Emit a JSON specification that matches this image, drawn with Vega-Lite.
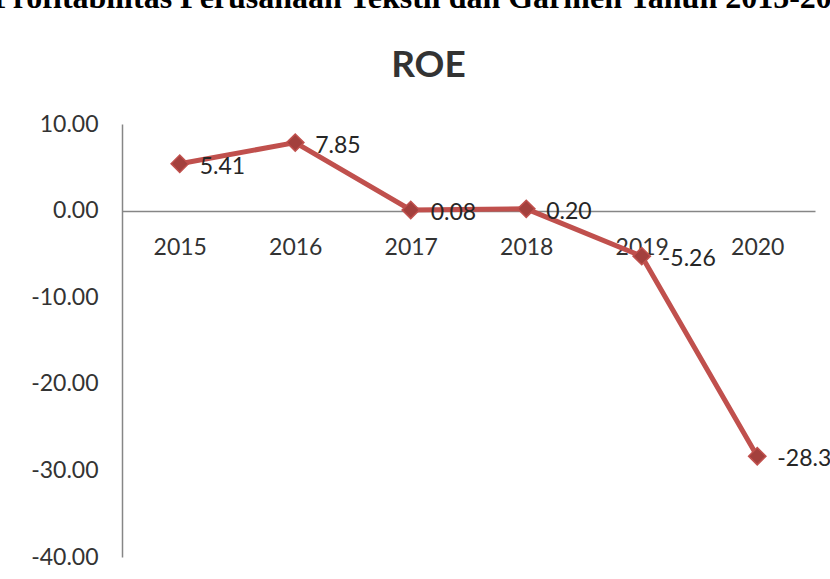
{
  "$schema": "https://vega.github.io/schema/vega-lite/v6.json",
  "autosize": {"type": "none"},
  "width": 693,
  "height": 433,
  "padding": {"left": 122, "top": 124, "right": 15, "bottom": 22},
  "background": "white",
  "title": {
    "text": "Profitabilitas Perusahaan Tekstil dan Garmen Tahun 2015-2020",
    "subtitle": "ROE",
    "anchor": "middle",
    "frame": "group",
    "dx": -40,
    "offset": 28,
    "baseline": "top",
    "font": "Liberation Serif",
    "fontSize": 32,
    "fontWeight": "bold",
    "color": "#000000",
    "subtitleFont": "Lato",
    "subtitleFontSize": 37,
    "subtitleFontWeight": "bold",
    "subtitleColor": "#333333",
    "subtitlePadding": 33
  },
  "data": {
    "values": [
      {"year": "2015", "roe": 5.41},
      {"year": "2016", "roe": 7.85},
      {"year": "2017", "roe": 0.08},
      {"year": "2018", "roe": 0.20},
      {"year": "2019", "roe": -5.26},
      {"year": "2020", "roe": -28.36}
    ]
  },
  "config": {
    "view": {"stroke": null},
    "font": "Lato",
    "locale": {
      "number": {"decimal": ".", "thousands": ",", "grouping": [3], "currency": ["$", ""], "minus": "-"}
    }
  },
  "encoding": {
    "x": {
      "field": "year",
      "type": "ordinal",
      "scale": {"type": "point", "padding": 0.5},
      "axis": {
        "orient": "bottom",
        "offset": -346,
        "title": null,
        "labelAngle": 0,
        "labelFont": "Lato",
        "labelFontSize": 23,
        "labelColor": "#333333",
        "labelPadding": 25,
        "labelBaseline": "top",
        "ticks": false,
        "domainColor": "#868686",
        "domainWidth": 1.5,
        "grid": false
      }
    },
    "y": {
      "field": "roe",
      "type": "quantitative",
      "scale": {"domain": [-40, 10], "nice": false, "zero": false},
      "axis": {
        "values": [-40, -30, -20, -10, 0, 10],
        "format": ".2f",
        "title": null,
        "labelFont": "Lato",
        "labelFontSize": 23,
        "labelColor": "#333333",
        "labelPadding": 24,
        "ticks": false,
        "grid": false,
        "domainColor": "#868686",
        "domainWidth": 1.5
      }
    }
  },
  "layer": [
    {
      "mark": {"type": "line", "color": "#C0504D", "strokeWidth": 5}
    },
    {
      "mark": {"type": "point", "shape": "diamond", "size": 300, "filled": true, "fill": "#A3403D", "stroke": "#C0504D", "strokeWidth": 1.5, "opacity": 1}
    },
    {
      "mark": {"type": "text", "align": "left", "baseline": "middle", "dx": 20, "dy": 3, "font": "Lato", "fontSize": 23, "color": "#262626"},
      "encoding": {"text": {"field": "roe", "type": "quantitative", "format": ".2f"}}
    }
  ]
}
